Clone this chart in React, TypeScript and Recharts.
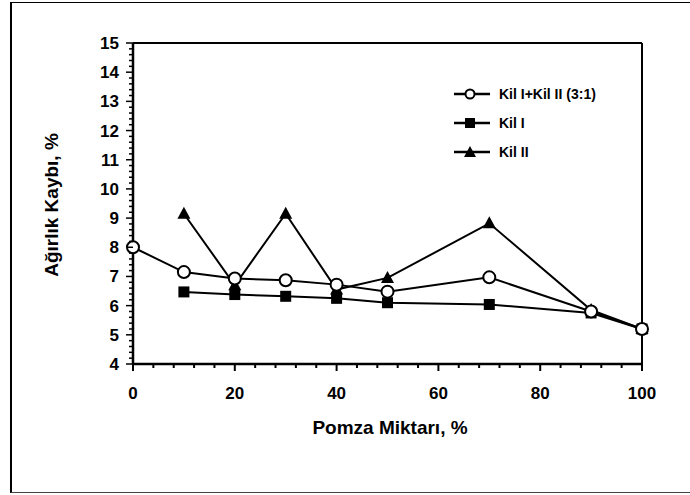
import { LineChart, Line, XAxis, YAxis, ReferenceLine, Legend } from 'recharts';

const pomza = [0, 10, 20, 30, 40, 50, 70, 90, 100];
const kilMix = [8.0, 7.15, 6.93, 6.87, 6.72, 6.48, 6.97, 5.8, 5.2];
const kil1 = [null, 6.47, 6.38, 6.32, 6.25, 6.1, 6.04, 5.75, 5.2];
const kil2 = [null, 9.15, 6.7, 9.15, 6.55, 6.95, 8.82, 5.85, 5.2];

const seriesNames = ['Kil I+Kil II (3:1)', 'Kil I', 'Kil II'];
const xMajor = [0, 20, 40, 60, 80, 100];
const yMajor = [4, 5, 6, 7, 8, 9, 10, 11, 12, 13, 14, 15];

const data = pomza.map((p, i) => ({ pomza: p, mix: kilMix[i], kil1: kil1[i], kil2: kil2[i] }));

// minor tick marks: every 4 on x, every 0.2 on y
const xTicks: number[] = [];
for (let v = 0; v <= 100; v += 4) xTicks.push(v);
const yTicks: number[] = [];
for (let i = 0; i <= 55; i++) yTicks.push(Math.round((4 + i * 0.2) * 10) / 10);

const FONT = '"Liberation Sans", Arial, sans-serif';

function XTick(props: any) {
  const { x, y, payload } = props;
  const major = xMajor.includes(payload.value);
  return (
    <g>
      <line x1={x} x2={x} y1={y} y2={y + (major ? 7 : 4)} stroke="#000" strokeWidth={2} />
      {major && (
        <text x={x} y={y + 35} textAnchor="middle" fontFamily={FONT} fontWeight="bold" fontSize={17} fill="#000">
          {payload.value}
        </text>
      )}
    </g>
  );
}

function YTick(props: any) {
  const { x, y, payload } = props;
  const major = yMajor.includes(payload.value);
  return (
    <g>
      <line x1={x} x2={x - (major ? 7 : 4)} y1={y} y2={y} stroke="#000" strokeWidth={1.5} />
      {major && (
        <text x={x - 14} y={y + 6} textAnchor="end" fontFamily={FONT} fontWeight="bold" fontSize={17} fill="#000">
          {payload.value}
        </text>
      )}
    </g>
  );
}

function Square(props: any) {
  const { cx, cy, index } = props;
  if (cx == null || cy == null) return <g key={`s${index}`} />;
  return <rect key={`s${index}`} x={cx - 5.5} y={cy - 5.5} width={11} height={11} fill="#000" />;
}

function Triangle(props: any) {
  const { cx, cy, index } = props;
  if (cx == null || cy == null) return <g key={`t${index}`} />;
  return <path key={`t${index}`} d={`M${cx},${cy - 7} L${cx + 6.5},${cy + 5} L${cx - 6.5},${cy + 5} Z`} fill="#000" />;
}

function LegendMarks() {
  const marker = (i: number) => {
    if (i === 0) return <circle cx={18} cy={8} r={4.5} fill="#fff" stroke="#000" strokeWidth={2} />;
    if (i === 1) return <rect x={13} y={3} width={10} height={10} fill="#000" />;
    return <path d="M18,2 L24,13 L12,13 Z" fill="#000" />;
  };
  return (
    <div>
      {seriesNames.map((name, i) => (
        <div key={name} style={{ display: 'flex', alignItems: 'center', height: 29 }}>
          <svg width={40} height={16}>
            <line x1={2} x2={38} y1={8} y2={8} stroke="#000" strokeWidth={2.5} />
            {marker(i)}
          </svg>
          <span style={{ marginLeft: 7, fontFamily: FONT, fontWeight: 'bold', fontSize: 14, color: '#000' }}>{name}</span>
        </div>
      ))}
    </div>
  );
}

export default function App() {
  return (
    <div style={{ position: 'absolute', left: 0, top: 0, width: 690, height: 495, overflow: 'hidden', background: '#fff' }}>
      <div style={{
        position: 'absolute', left: 10, top: 2, width: 720, height: 489,
        borderLeft: '2px solid #000', borderTop: '1.5px solid #000', borderBottom: '1px solid #444',
      }} />
      <LineChart width={690} height={495} data={data} margin={{ top: 43, right: 48, bottom: 101, left: 73 }}>
        <XAxis
          dataKey="pomza"
          type="number"
          domain={[0, 100]}
          ticks={xTicks}
          interval={0}
          height={30}
          tickSize={0}
          tickMargin={0}
          tickLine={false}
          axisLine={{ stroke: '#000', strokeWidth: 2.5 }}
          tick={XTick}
        />
        <YAxis
          type="number"
          domain={[4, 15]}
          ticks={yTicks}
          interval={0}
          width={60}
          tickSize={0}
          tickMargin={0}
          tickLine={false}
          axisLine={{ stroke: '#000', strokeWidth: 2.5 }}
          tick={YTick}
        />
        <ReferenceLine y={15} stroke="#000" strokeWidth={2} />
        <ReferenceLine x={100} stroke="#000" strokeWidth={2} />
        <Legend
          layout="vertical"
          align="center"
          verticalAlign="middle"
          content={<LegendMarks />}
          wrapperStyle={{ left: 452, top: 79, width: 200 }}
        />
        <Line dataKey="kil2" name={seriesNames[2]} stroke="#000" strokeWidth={2} dot={Triangle} isAnimationActive={false} />
        <Line dataKey="kil1" name={seriesNames[1]} stroke="#000" strokeWidth={2} dot={Square} isAnimationActive={false} />
        <Line
          dataKey="mix"
          name={seriesNames[0]}
          stroke="#000"
          strokeWidth={2}
          dot={{ r: 6, fill: '#fff', stroke: '#000', strokeWidth: 2 }}
          isAnimationActive={false}
        />
      </LineChart>
      <div style={{
        position: 'absolute', left: 390, top: 428, transform: 'translate(-50%, -50%)',
        fontFamily: FONT, fontWeight: 'bold', fontSize: 19, whiteSpace: 'nowrap',
      }}>
        Pomza Miktarı, %
      </div>
      <div style={{
        position: 'absolute', left: 52, top: 205, transform: 'translate(-50%, -50%) rotate(-90deg)',
        fontFamily: FONT, fontWeight: 'bold', fontSize: 19, whiteSpace: 'nowrap',
      }}>
        Ağırlık Kaybı, %
      </div>
    </div>
  );
}
